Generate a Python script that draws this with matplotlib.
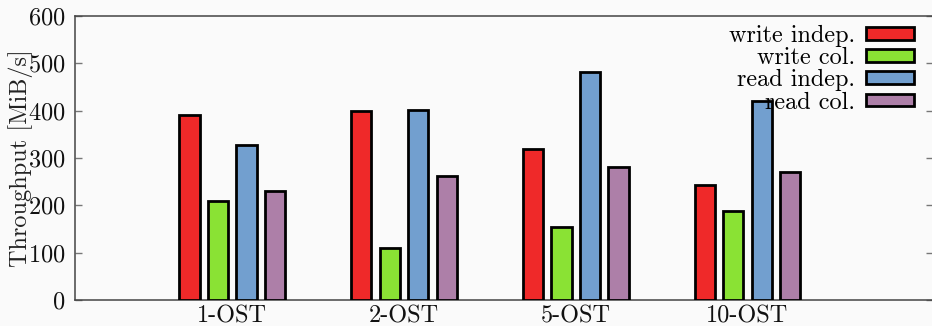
import matplotlib
matplotlib.use("Agg")
import matplotlib.pyplot as plt
import numpy as np

plt.rcParams['font.family'] = ['cmr10', 'DejaVu Serif']
plt.rcParams['axes.formatter.use_mathtext'] = True

categories = ["1-OST", "2-OST", "5-OST", "10-OST"]
series_names = ["write indep.", "write col.", "read indep.", "read col."]
write_indep = [391, 399, 318, 244]
write_col = [209, 110, 154, 187]
read_indep = [327, 401, 481, 420]
read_col = [230, 262, 280, 270]
y_ticks = [0, 100, 200, 300, 400, 500, 600]

colors = ["#EF2929", "#8AE234", "#729FCF", "#AD7FA8"]
series = [write_indep, write_col, read_indep, read_col]

W, H = 932, 326
fig = plt.figure(figsize=(W / 100, H / 100), dpi=100, facecolor="#fafafa")
ax = fig.add_axes([75 / W, 1 - 300 / H, 858 / W, 284 / H])
ax.set_facecolor("#fafafa")

x = np.arange(len(categories))
step = 0.166
width = 0.118
for i, (vals, c, name) in enumerate(zip(series, colors, series_names)):
    ax.bar(x + (i - 1.5) * step, vals, width, color=c, edgecolor="black",
           linewidth=2.0, label=name, zorder=3)

ax.set_xlim(-0.916, 4.08)
ax.set_ylim(0, 600)
ax.set_yticks(y_ticks)
ax.set_xticks(x)
ax.set_xticklabels(categories)

for s in ax.spines.values():
    s.set_color("#444444")
    s.set_linewidth(1.1)

FS = 17.5
ax.tick_params(axis="y", direction="in", length=5, width=1.0, color="#777777",
               labelsize=FS, pad=7, right=True, labelcolor="#111111")
ax.tick_params(axis="x", length=0, labelsize=FS, pad=4, labelcolor="#111111")

ax.set_ylabel("Throughput [MiB/s]", fontsize=FS, color="#222222")
ax.yaxis.set_label_coords(-0.049, 0.5)

leg = ax.legend(loc="upper right", bbox_to_anchor=(0.978, 0.968), frameon=False,
                markerfirst=False, fontsize=FS, labelspacing=0.0,
                handlelength=2.0, handleheight=0.42, handletextpad=0.42,
                borderpad=0, borderaxespad=0)
leg.set_zorder(5)

fig.savefig("out.png", dpi=100, facecolor="#fafafa")
